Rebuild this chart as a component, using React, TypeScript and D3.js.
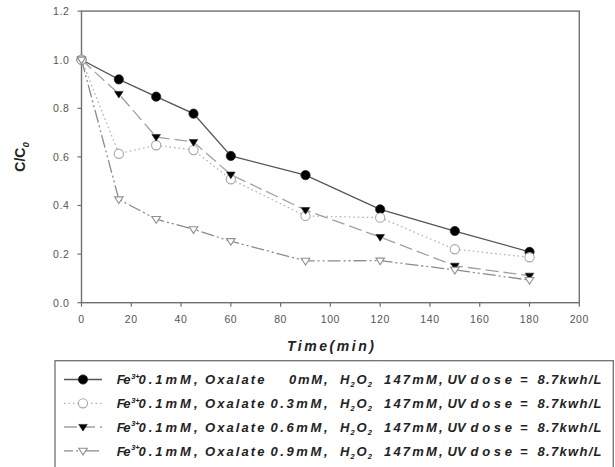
import React from "react";
import * as d3 from "d3";

const times = [0, 15, 30, 45, 60, 90, 120, 150, 180];
const oxalate0 = [1.0, 0.919, 0.848, 0.778, 0.604, 0.525, 0.384, 0.295, 0.209];
const oxalate03 = [1.0, 0.613, 0.648, 0.628, 0.508, 0.357, 0.35, 0.22, 0.187];
const oxalate06 = [1.0, 0.859, 0.682, 0.661, 0.527, 0.381, 0.27, 0.152, 0.111];
const oxalate09 = [1.0, 0.425, 0.344, 0.302, 0.253, 0.172, 0.173, 0.135, 0.093];
const xTicks = [0, 20, 40, 60, 80, 100, 120, 140, 160, 180, 200];
const yTicks = [0.0, 0.2, 0.4, 0.6, 0.8, 1.0, 1.2];
const oxalateLabels = ["0mM,", "0.3mM,", "0.6mM,", "0.9mM,"];

type Marker = "circleFilled" | "circleOpen" | "triFilled" | "triOpen";
const series: { values: number[]; marker: Marker; color: string; dash: string; label: string }[] = [
  { values: oxalate0, marker: "circleFilled", color: "#555", dash: "", label: oxalateLabels[0] },
  { values: oxalate03, marker: "circleOpen", color: "#b0b0b0", dash: "1.5,3", label: oxalateLabels[1] },
  { values: oxalate06, marker: "triFilled", color: "#a0a0a0", dash: "13,5", label: oxalateLabels[2] },
  { values: oxalate09, marker: "triOpen", color: "#8a8a8a", dash: "13,3,2,3,2,3", label: oxalateLabels[3] },
];

const W = 615, H = 467;
const x = d3.scaleLinear().domain([0, 200]).range([81.5, 579.3]);
const y = d3.scaleLinear().domain([0, 1.2]).range([302.7, 11.1]);

function MarkerShape({ kind, cx, cy }: { kind: Marker; cx: number; cy: number }) {
  if (kind === "circleFilled") return <circle cx={cx} cy={cy} r={4.6} fill="#000" stroke="#222" strokeWidth={0.8} />;
  if (kind === "circleOpen") return <circle cx={cx} cy={cy} r={4.6} fill="#fff" stroke="#a8a8a8" strokeWidth={1.1} />;
  const s = 4.3;
  const d = `M${cx - s},${cy - s * 0.6} L${cx + s},${cy - s * 0.6} L${cx},${cy + s * 0.95} Z`;
  if (kind === "triFilled") return <path d={d} fill="#000" stroke="#222" strokeWidth={0.6} />;
  return <path d={d} fill="#fff" stroke="#909090" strokeWidth={1.1} />;
}

function Word({ x0, x1, yb, children, size = 13 }: { x0: number; x1?: number; yb: number; children: React.ReactNode; size?: number }) {
  return (
    <text x={x0} y={yb} fontSize={size} fontWeight="bold" fontStyle="italic" fill="#222"
      textLength={x1 !== undefined ? x1 - x0 : undefined} lengthAdjust={x1 !== undefined ? "spacing" : undefined}>
      {children}
    </text>
  );
}

export default function App() {
  const line = d3.line<number>().x((_, i) => x(times[i])).y((v) => y(v));
  const font = "Arial, 'Liberation Sans', Helvetica, sans-serif";
  const legendRows = [379.5, 403.3, 427, 450.8];
  return (
    <svg width={W} height={H} style={{ position: "absolute", left: 0, top: 0, background: "#fff" }} fontFamily={font}>
      <rect x={x(0)} y={y(1.2)} width={x(200) - x(0)} height={y(0) - y(1.2)} fill="none" stroke="#707070" strokeWidth={1.4} />
      {xTicks.map((t) => (
        <g key={"xt" + t}>
          <line x1={x(t)} x2={x(t)} y1={y(0)} y2={y(0) + 4} stroke="#707070" strokeWidth={1.2} />
          <text x={x(t)} y={322.5} textAnchor="middle" fontSize={10.5} fill="#555" letterSpacing={0.6}>{t}</text>
        </g>
      ))}
      {yTicks.map((t) => (
        <g key={"yt" + t}>
          <line x1={x(0) - 4} x2={x(0)} y1={y(t)} y2={y(t)} stroke="#707070" strokeWidth={1.2} />
          <text x={69.5} y={y(t) + 3.8} textAnchor="end" fontSize={10.5} fill="#555" letterSpacing={0.6}>{t.toFixed(1)}</text>
        </g>
      ))}
      <text x={287} y={351} fontSize={14} fontWeight="bold" fontStyle="italic" fill="#222" textLength={87} lengthAdjust="spacing">Time(min)</text>
      <g transform="translate(24.5,157) rotate(-90)">
        <text x={0} y={0} textAnchor="middle" fontSize={14} fontWeight="bold" fill="#222">
          C/C<tspan fontSize={9.5} dy={4} fontStyle="italic">0</tspan>
        </text>
      </g>
      {series.map((s, i) => (
        <path key={"l" + i} d={line(s.values) || ""} fill="none" stroke={s.color} strokeWidth={1.3} strokeDasharray={s.dash} />
      ))}
      {series.map((s, i) =>
        s.values.map((v, j) => <MarkerShape key={"m" + i + "-" + j} kind={s.marker} cx={x(times[j])} cy={y(v)} />)
      )}
      <rect x={55} y={360.7} width={558.3} height={120} fill="#fff" stroke="#707070" strokeWidth={1.3} />
      {series.map((s, i) => {
        const ry = legendRows[i];
        const yb = ry + 4.7;
        return (
          <g key={"lg" + i}>
            <line x1={64} x2={102} y1={ry} y2={ry} stroke={s.color} strokeWidth={1.3} strokeDasharray={s.dash} strokeDashoffset={i === 3 ? 4 : 0} />
            <MarkerShape kind={s.marker} cx={83} cy={ry} />
            <Word x0={116.7} x1={130.5} yb={yb}>Fe</Word>
            <text x={131.2} y={yb - 5.5} fontSize={7.5} fontWeight="bold" fontStyle="italic" fill="#222">3+</text>
            <Word x0={138.5} x1={197.5} yb={yb}>0.1mM,</Word>
            <Word x0={205} x1={264.5} yb={yb}>Oxalate</Word>
            {i === 0 ? (
              <Word x0={289} x1={327.5} yb={yb}>{s.label}</Word>
            ) : (
              <Word x0={270.5} x1={327.5} yb={yb}>{s.label}</Word>
            )}
            <text x={340} y={yb} fontSize={13} fontWeight="bold" fontStyle="italic" fill="#222" letterSpacing={1.2}>
              H<tspan fontSize={7.5} dy={3}>2</tspan><tspan dy={-3} dx={0.5}>O</tspan><tspan fontSize={7.5} dy={3}>2</tspan>
            </text>
            <Word x0={384} x1={442.5} yb={yb}>147mM,</Word>
            <Word x0={447.5} yb={yb}>UV</Word>
            <Word x0={470.5} x1={512} yb={yb}>dose</Word>
            <Word x0={520} x1={530.5} yb={yb}>=</Word>
            <Word x0={537.5} x1={601.5} yb={yb}>8.7kwh/L</Word>
          </g>
        );
      })}
    </svg>
  );
}
